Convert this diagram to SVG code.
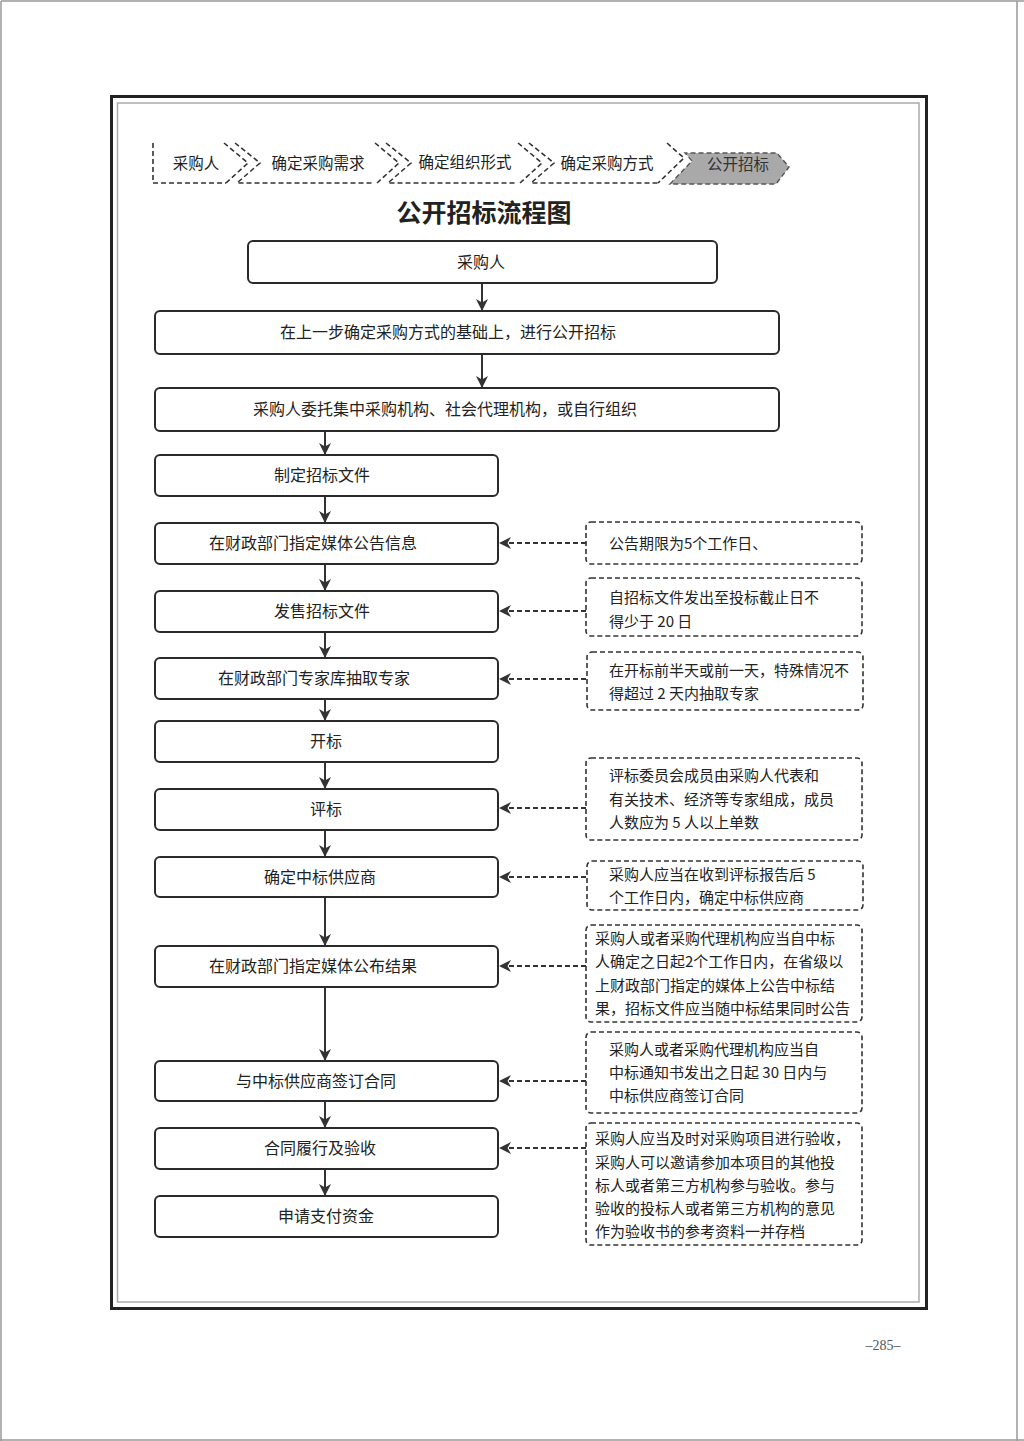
<svg xmlns="http://www.w3.org/2000/svg" width="1024" height="1441" viewBox="0 0 1024 1441">
<style>
text{font-family:"Noto Sans CJK SC","Liberation Serif",serif;fill:#222}
.bt{font-size:16px;text-anchor:middle}
.nt{font-size:15px}
.crumb{font-size:15.5px;text-anchor:middle}
.box{fill:#fff;stroke:#2a2a2a;stroke-width:2}
.note{fill:#fff;stroke:#333;stroke-width:1.6;stroke-dasharray:5 3}
.dash{fill:none;stroke:#333;stroke-width:1.6;stroke-dasharray:5 3}
.sol{fill:none;stroke:#333;stroke-width:2}
.dconn{fill:none;stroke:#333;stroke-width:2;stroke-dasharray:5 3}
</style>
<defs>
<marker id="ah" viewBox="0 0 12 12" refX="11" refY="6" markerWidth="12" markerHeight="12" markerUnits="userSpaceOnUse" orient="auto">
<path d="M0,0 L12,6 L0,12 L3.5,6 Z" fill="#333"/>
</marker>
</defs>
<rect x="0" y="0" width="1024" height="1441" fill="#fff"/>
<path d="M1,1 H1024 M1,1 V1441 M1017,1 V1441 M0,1440 H1024" fill="none" stroke="#999" stroke-width="1.5"/>
<rect x="111.5" y="96.5" width="815" height="1212" fill="none" stroke="#222" stroke-width="3"/>
<rect x="117.5" y="103" width="801.5" height="1199" fill="none" stroke="#aaa" stroke-width="1.5"/>

<g id="breadcrumb">
<path class="dash" d="M153,143 V183 H226"/>
<path class="dash" d="M224,143 L248,163 L226,183"/>
<path class="dash" d="M235,143 L260,163 L237,183 H374"/>
<path class="dash" d="M375,143 L399,163 L377,183"/>
<path class="dash" d="M386,143 L411,163 L388,183 H517"/>
<path class="dash" d="M518,143 L542,163 L520,183"/>
<path class="dash" d="M529,143 L554,163 L531,183 H658"/>
<path class="dash" d="M667,143 L684,158 L658,183"/>
<path d="M670,184 L692,161 L685,153 L777,153 L789,167 L776,184 Z" fill="#a9a9a9" stroke="#555" stroke-width="1.4" stroke-dasharray="5 3"/>
<text class="crumb" x="196" y="169">采购人</text>
<text class="crumb" x="318" y="169">确定采购需求</text>
<text class="crumb" x="465" y="168">确定组织形式</text>
<text class="crumb" x="607" y="169">确定采购方式</text>
<text class="crumb" x="738" y="170" style="fill:#333">公开招标</text>
</g>

<text x="484" y="222" style="font-size:25px;font-weight:bold;text-anchor:middle">公开招标流程图</text>

<g id="connectors">
<path class="sol" d="M482,283 V310" marker-end="url(#ah)"/>
<path class="sol" d="M482,354 V387" marker-end="url(#ah)"/>
<path class="sol" d="M325,431 V454" marker-end="url(#ah)"/>
<path class="sol" d="M325,496 V522" marker-end="url(#ah)"/>
<path class="sol" d="M325,564 V590" marker-end="url(#ah)"/>
<path class="sol" d="M325,632 V657" marker-end="url(#ah)"/>
<path class="sol" d="M325,699 V720" marker-end="url(#ah)"/>
<path class="sol" d="M325,762 V788" marker-end="url(#ah)"/>
<path class="sol" d="M325,830 V856" marker-end="url(#ah)"/>
<path class="sol" d="M325,897 V945" marker-end="url(#ah)"/>
<path class="sol" d="M325,987 V1060" marker-end="url(#ah)"/>
<path class="sol" d="M325,1101 V1127" marker-end="url(#ah)"/>
<path class="sol" d="M325,1169 V1195" marker-end="url(#ah)"/>
<path class="dconn" d="M586,543 H500" marker-end="url(#ah)"/>
<path class="dconn" d="M586,611 H500" marker-end="url(#ah)"/>
<path class="dconn" d="M586,679 H500" marker-end="url(#ah)"/>
<path class="dconn" d="M586,808 H500" marker-end="url(#ah)"/>
<path class="dconn" d="M586,877 H500" marker-end="url(#ah)"/>
<path class="dconn" d="M586,966 H500" marker-end="url(#ah)"/>
<path class="dconn" d="M586,1081 H500" marker-end="url(#ah)"/>
<path class="dconn" d="M586,1148 H500" marker-end="url(#ah)"/>
</g>

<g id="n1"><rect class="box" x="248" y="241" width="469" height="42" rx="5"/><text class="bt" x="481" y="268">采购人</text></g>
<g id="n2"><rect class="box" x="155" y="311" width="624" height="43" rx="5"/><text class="bt" x="448" y="338">在上一步确定采购方式的基础上，进行公开招标</text></g>
<g id="n3"><rect class="box" x="155" y="388" width="624" height="43" rx="5"/><text class="bt" x="445" y="415">采购人委托集中采购机构、社会代理机构，或自行组织</text></g>
<g id="n4"><rect class="box" x="155" y="455" width="343" height="41" rx="5"/><text class="bt" x="322" y="481">制定招标文件</text></g>
<g id="n5"><rect class="box" x="155" y="523" width="343" height="41" rx="5"/><text class="bt" x="313" y="549">在财政部门指定媒体公告信息</text></g>
<g id="n6"><rect class="box" x="155" y="591" width="343" height="41" rx="5"/><text class="bt" x="322" y="617">发售招标文件</text></g>
<g id="n7"><rect class="box" x="155" y="658" width="343" height="41" rx="5"/><text class="bt" x="314" y="684">在财政部门专家库抽取专家</text></g>
<g id="n8"><rect class="box" x="155" y="721" width="343" height="41" rx="5"/><text class="bt" x="326" y="747">开标</text></g>
<g id="n9"><rect class="box" x="155" y="789" width="343" height="41" rx="5"/><text class="bt" x="326" y="815">评标</text></g>
<g id="n10"><rect class="box" x="155" y="857" width="343" height="40" rx="5"/><text class="bt" x="320" y="883">确定中标供应商</text></g>
<g id="n11"><rect class="box" x="155" y="946" width="343" height="41" rx="5"/><text class="bt" x="313" y="972">在财政部门指定媒体公布结果</text></g>
<g id="n12"><rect class="box" x="155" y="1061" width="343" height="40" rx="5"/><text class="bt" x="316" y="1087">与中标供应商签订合同</text></g>
<g id="n13"><rect class="box" x="155" y="1128" width="343" height="41" rx="5"/><text class="bt" x="320" y="1154">合同履行及验收</text></g>
<g id="n14"><rect class="box" x="155" y="1196" width="343" height="41" rx="5"/><text class="bt" x="326" y="1222">申请支付资金</text></g>

<g id="noteA"><rect class="note" x="586" y="522" width="276" height="42" rx="5"/><text class="nt" x="609" y="549">公告期限为5个工作日、</text></g>
<g id="noteB"><rect class="note" x="586" y="578" width="276" height="58" rx="5"/><text class="nt" x="609" y="603">自招标文件发出至投标截止日不</text><text class="nt" x="609" y="627">得少于 20 日</text></g>
<g id="noteC"><rect class="note" x="587" y="652" width="276" height="58" rx="5"/><text class="nt" x="609" y="676">在开标前半天或前一天，特殊情况不</text><text class="nt" x="609" y="699">得超过 2 天内抽取专家</text></g>
<g id="noteD"><rect class="note" x="586" y="758" width="276" height="82" rx="5"/><text class="nt" x="609" y="781">评标委员会成员由采购人代表和</text><text class="nt" x="609" y="805">有关技术、经济等专家组成，成员</text><text class="nt" x="609" y="828">人数应为 5 人以上单数</text></g>
<g id="noteE"><rect class="note" x="587" y="861" width="276" height="49" rx="5"/><text class="nt" x="609" y="880">采购人应当在收到评标报告后 5</text><text class="nt" x="609" y="903">个工作日内，确定中标供应商</text></g>
<g id="noteF"><rect class="note" x="586" y="925" width="276" height="97" rx="5"/><text class="nt" x="595" y="944">采购人或者采购代理机构应当自中标</text><text class="nt" x="595" y="967">人确定之日起2个工作日内，在省级以</text><text class="nt" x="595" y="991">上财政部门指定的媒体上公告中标结</text><text class="nt" x="595" y="1014">果，招标文件应当随中标结果同时公告</text></g>
<g id="noteG"><rect class="note" x="586" y="1032" width="276" height="81" rx="5"/><text class="nt" x="609" y="1055">采购人或者采购代理机构应当自</text><text class="nt" x="609" y="1078">中标通知书发出之日起 30 日内与</text><text class="nt" x="609" y="1101">中标供应商签订合同</text></g>
<g id="noteH"><rect class="note" x="586" y="1123" width="276" height="122" rx="5"/><text class="nt" x="595" y="1144">采购人应当及时对采购项目进行验收，</text><text class="nt" x="595" y="1168">采购人可以邀请参加本项目的其他投</text><text class="nt" x="595" y="1191">标人或者第三方机构参与验收。参与</text><text class="nt" x="595" y="1214">验收的投标人或者第三方机构的意见</text><text class="nt" x="595" y="1237">作为验收书的参考资料一并存档</text></g>

<text x="883" y="1350" style="font-family:'Liberation Serif',serif;font-size:14px;fill:#555;text-anchor:middle">–285–</text>
</svg>
